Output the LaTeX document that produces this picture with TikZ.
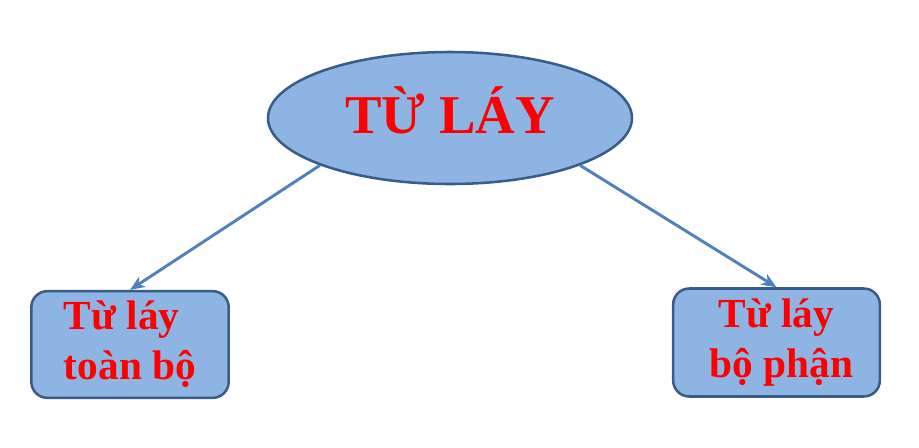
\documentclass[tikz,border=0pt]{standalone}
\usepackage{fontspec}
\setmainfont{Liberation Serif}
\usetikzlibrary{shapes.geometric,arrows.meta}

\definecolor{boxfill}{RGB}{142,180,227}
\definecolor{boxline}{RGB}{56,93,138}
\definecolor{arrowblue}{RGB}{79,129,189}
\definecolor{textred}{RGB}{255,0,0}

\tikzset{every picture/.style={line width=0.75pt}}
\tikzset{
  topic/.style={ellipse, draw=boxline, fill=boxfill, line width=1.9pt, minimum width=273pt, minimum height=99pt, inner sep=0pt,
    text=textred, text height=22.5pt, text depth=0pt, font=\fontsize{41}{49}\selectfont\bfseries},
  kindbox/.style={rectangle, rounded corners=12pt, draw=boxline, fill=boxfill, line width=1.9pt, inner sep=0pt,
    text=textred, font=\fontsize{31}{37.5}\selectfont\bfseries},
  branch/.style={draw=arrowblue, line width=2.2pt, -{Stealth[length=11pt,width=9pt,inset=3pt]}}
}

\begin{document}
\begin{tikzpicture}[x=0.75pt,y=0.75pt,yscale=-1,xscale=1]
\useasboundingbox (0,0) rectangle (919,447);

% Ellipse
\node [topic] (tulay) at (450,118) {TỪ LÁY};

% Rounded boxes
\node [kindbox, minimum width=148pt, minimum height=80pt, align=left] (toanbo) at (130,344.5) {Từ láy\\toàn bộ};
\node [kindbox, minimum width=155pt, minimum height=81pt, align=center] (bophan) at (776.5,342.5) {Từ láy\\\hspace*{0.25em}bộ phận};

% Arrows
\draw [branch] (tulay.200) -- (toanbo.north);
\draw [branch] (tulay.340) -- (bophan.north);

\end{tikzpicture}
\end{document}
